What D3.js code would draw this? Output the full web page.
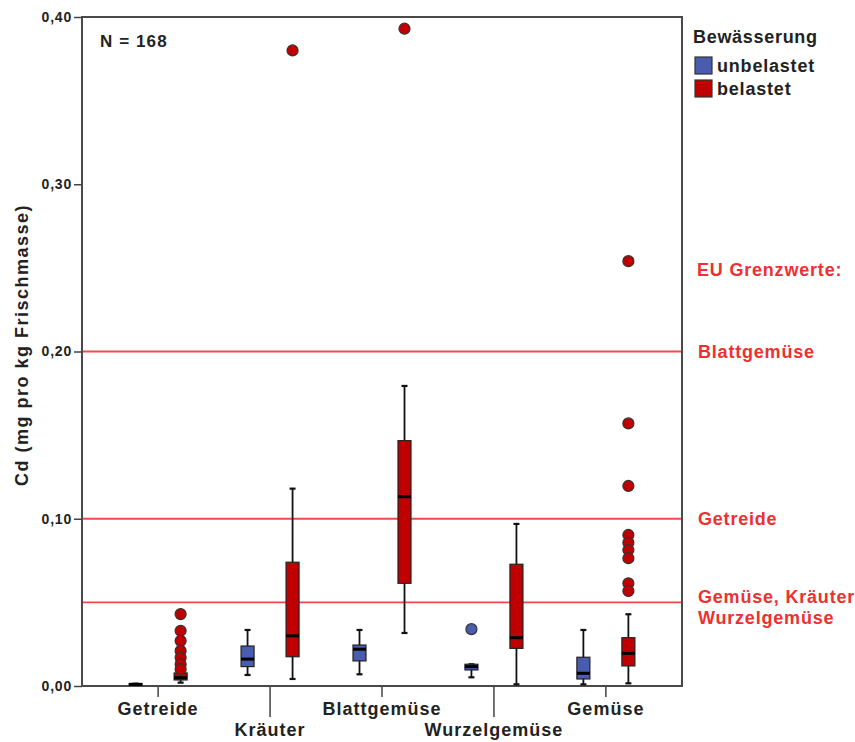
<!DOCTYPE html>
<html lang="de">
  <head>
    <meta charset="utf-8">
    <style type="text/css">
    body { margin: 0; background: #fff; }
    svg text { font-family: "Liberation Sans", Arial, sans-serif; font-weight: bold; }
    </style>
  </head>
  <body>
    <script src="https://cdn.jsdelivr.net/npm/d3@7"></script>
    <script>
      // Kategorien und Achsenbeschriftungen
      var categories = ["Getreide", "Kräuter", "Blattgemüse", "Wurzelgemüse", "Gemüse"];
      var yTicks = [0, 0.1, 0.2, 0.3, 0.4];
      var groups = ["unbelastet", "belastet"];

      // Boxplot-Kennwerte je Kategorie (unbelastet)
      var uLow  = [0.0008, 0.0066, 0.0070, 0.0052, 0.0010];
      var uQ1   = [0.0008, 0.0116, 0.0150, 0.0096, 0.0042];
      var uMed  = [0.0010, 0.0161, 0.0220, 0.0116, 0.0076];
      var uQ3   = [0.0014, 0.0239, 0.0245, 0.0130, 0.0172];
      var uHigh = [0.0014, 0.0335, 0.0335, 0.0130, 0.0335];
      var uOut  = [[], [], [], [0.034], []];

      // Boxplot-Kennwerte je Kategorie (belastet)
      var bLow  = [0.0020, 0.0042, 0.0317, 0.0010, 0.0016];
      var bQ1   = [0.0036, 0.0175, 0.0614, 0.0225, 0.0120];
      var bMed  = [0.0050, 0.0300, 0.1132, 0.0289, 0.0195];
      var bQ3   = [0.0078, 0.0740, 0.1467, 0.0728, 0.0289];
      var bHigh = [0.0090, 0.1180, 0.1794, 0.0969, 0.0429];
      var bOut  = [[0.043, 0.033, 0.027, 0.021, 0.017, 0.013, 0.010],
                   [0.380],
                   [0.393],
                   [],
                   [0.254, 0.157, 0.1196, 0.0903, 0.0857, 0.0813, 0.0764, 0.0614, 0.0568]];

      // EU-Grenzwerte
      var limitValues = [0.20, 0.10, 0.05];
      var limitLabels = [["Blattgemüse"], ["Getreide"], ["Gemüse, Kräuter", "Wurzelgemüse"]];

      var colors = { unbelastet: "#4a5cb0", belastet: "#c00000" };

      var w = 855, h = 742;
      var pLeft = 82, pRight = 682, pTop = 17, pBottom = 686;

      var svg = d3.select("body").append("svg")
        .attr("width", w)
        .attr("height", h);

      var x = d3.scalePoint().domain(categories).range([pLeft, pRight]).padding(0.68);
      var y = d3.scaleLinear().domain([0, 0.4]).range([pBottom, pTop]);
      var offset = 22.5, boxW = 13, capW = 6;

      // Grenzwertlinien
      svg.selectAll("line.limit")
        .data(limitValues)
        .enter()
        .append("line")
        .attr("x1", pLeft).attr("x2", pRight)
        .attr("y1", function(d) { return y(d); })
        .attr("y2", function(d) { return y(d); })
        .attr("stroke", "#f24a4a")
        .attr("stroke-width", 1.8);

      // Rahmen
      svg.append("rect")
        .attr("x", pLeft).attr("y", pTop)
        .attr("width", pRight - pLeft).attr("height", pBottom - pTop)
        .attr("fill", "none")
        .attr("stroke", "#4a4a4a")
        .attr("stroke-width", 2);

      // Boxen zusammenstellen
      var boxes = [];
      categories.forEach(function(c, i) {
        boxes.push({ cat: c, g: "unbelastet", dx: -offset, lo: uLow[i], q1: uQ1[i], med: uMed[i], q3: uQ3[i], hi: uHigh[i], out: uOut[i] });
        boxes.push({ cat: c, g: "belastet", dx: offset, lo: bLow[i], q1: bQ1[i], med: bMed[i], q3: bQ3[i], hi: bHigh[i], out: bOut[i] });
      });

      var box = svg.selectAll("g.box")
        .data(boxes)
        .enter()
        .append("g")
        .attr("class", "box")
        .attr("transform", function(d) { return "translate(" + (x(d.cat) + d.dx) + ",0)"; });

      box.append("line")
        .attr("x1", 0).attr("x2", 0)
        .attr("y1", function(d) { return y(d.lo); })
        .attr("y2", function(d) { return y(d.hi); })
        .attr("stroke", "#111").attr("stroke-width", 1.8);

      box.selectAll("line.cap")
        .data(function(d) { return [d.lo, d.hi]; })
        .enter()
        .append("line")
        .attr("x1", -capW / 2).attr("x2", capW / 2)
        .attr("y1", function(v) { return y(v); })
        .attr("y2", function(v) { return y(v); })
        .attr("stroke", "#111").attr("stroke-width", 2.2);

      box.append("rect")
        .attr("x", -boxW / 2)
        .attr("width", boxW)
        .attr("y", function(d) { return y(d.q3); })
        .attr("height", function(d) { return Math.max(1.5, y(d.q1) - y(d.q3)); })
        .attr("fill", function(d) { return colors[d.g]; })
        .attr("stroke", "#222").attr("stroke-width", 1.2);

      box.append("line")
        .attr("x1", -boxW / 2).attr("x2", boxW / 2)
        .attr("y1", function(d) { return y(d.med); })
        .attr("y2", function(d) { return y(d.med); })
        .attr("stroke", "#000").attr("stroke-width", 3);

      box.selectAll("circle")
        .data(function(d) { return d.out.map(function(v) { return { v: v, g: d.g }; }); })
        .enter()
        .append("circle")
        .attr("cx", 0)
        .attr("cy", function(o) { return y(o.v); })
        .attr("r", 5.5)
        .attr("fill", function(o) { return colors[o.g]; })
        .attr("stroke", "#333").attr("stroke-width", 1.2);

      // Y-Achse
      var yAxis = svg.append("g")
        .attr("transform", "translate(" + pLeft + ",0)")
        .call(d3.axisLeft(y).tickValues(yTicks).tickSize(8).tickPadding(2)
          .tickFormat(function(d) { return d3.format(".2f")(d).replace(".", ","); }));
      yAxis.select(".domain").remove();
      yAxis.selectAll("line").attr("stroke", "#444").attr("stroke-width", 1.5);
      yAxis.selectAll("text")
        .attr("font-size", "14px").attr("fill", "#222")
        .style("letter-spacing", "0.8px")
        .style("font-family", "'Liberation Sans', Arial, sans-serif")
        .style("font-weight", "bold");

      svg.append("text")
        .attr("transform", "translate(28,345) rotate(-90)")
        .attr("text-anchor", "middle")
        .attr("font-size", "18px")
        .style("letter-spacing", "1.5px")
        .attr("fill", "#222")
        .text("Cd (mg pro kg Frischmasse)");

      // X-Achse mit versetzten Beschriftungen
      var xTick = svg.selectAll("g.xtick")
        .data(categories)
        .enter()
        .append("g")
        .attr("class", "xtick")
        .attr("transform", function(d) { return "translate(" + x(d) + "," + pBottom + ")"; });

      xTick.append("line")
        .attr("y1", 0)
        .attr("y2", function(d, i) { return i % 2 ? 31 : 11; })
        .attr("stroke", "#444").attr("stroke-width", 1.5);

      xTick.append("text")
        .attr("text-anchor", "middle")
        .attr("y", function(d, i) { return i % 2 ? 50 : 29; })
        .attr("font-size", "18px")
        .style("letter-spacing", "1px")
        .attr("fill", "#222")
        .text(function(d) { return d; });

      svg.append("text")
        .attr("x", 100).attr("y", 47)
        .attr("font-size", "17px").attr("fill", "#222")
        .style("letter-spacing", "1.1px")
        .text("N = 168");

      // Legende
      svg.append("text")
        .attr("x", 693).attr("y", 43)
        .attr("font-size", "18px").attr("fill", "#222")
        .style("letter-spacing", "0.7px")
        .text("Bewässerung");

      var legend = svg.selectAll("g.legend")
        .data(groups)
        .enter()
        .append("g")
        .attr("transform", function(d, i) { return "translate(695," + (57 + i * 23) + ")"; });
      legend.append("rect")
        .attr("width", 17).attr("height", 17)
        .attr("fill", function(d) { return colors[d]; })
        .attr("stroke", "#333").attr("stroke-width", 1.2);
      legend.append("text")
        .attr("x", 22).attr("y", 15)
        .attr("font-size", "18px").attr("fill", "#222")
        .style("letter-spacing", "0.8px")
        .text(function(d) { return d; });

      // Grenzwert-Beschriftungen
      var red = "#ee3030";
      svg.append("text")
        .attr("x", 697).attr("y", 276)
        .attr("font-size", "18px").attr("fill", red)
        .style("letter-spacing", "0.8px")
        .text("EU Grenzwerte:");

      svg.selectAll("text.limit")
        .data(limitValues)
        .enter()
        .append("text")
        .attr("x", 698)
        .attr("y", function(d) { return y(d) + 6; })
        .attr("font-size", "18px").attr("fill", red)
        .style("letter-spacing", "0.8px")
        .each(function(d, i) {
          var t = d3.select(this);
          limitLabels[i].forEach(function(s, j) {
            t.append("tspan").attr("x", 698).attr("dy", j ? 21 : (limitLabels[i].length > 1 ? -5 : 0)).text(s);
          });
        });
    </script>
  </body>
</html>
